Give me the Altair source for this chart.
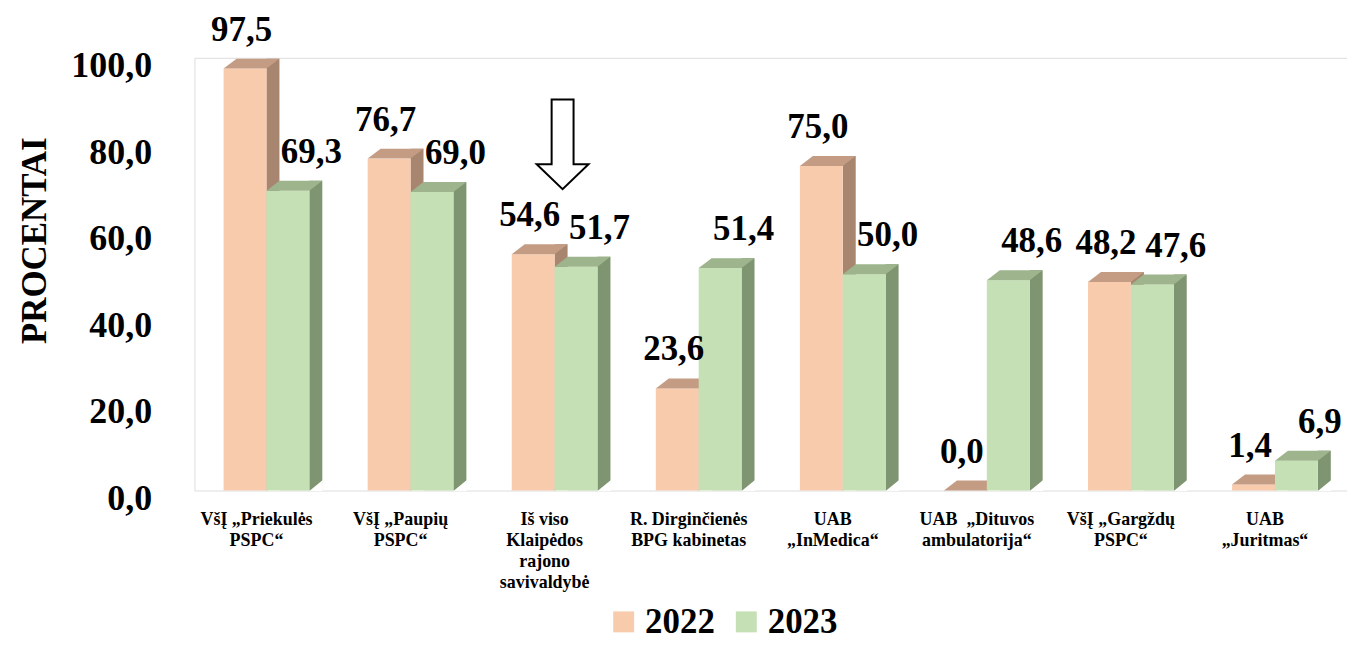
import altair as alt
import pandas as pd

categories = [
    "VšĮ „Priekulės\nPSPC“",
    "VšĮ „Paupių\nPSPC“",
    "Iš viso\nKlaipėdos\nrajono\nsavivaldybė",
    "R. Dirginčienės\nBPG kabinetas",
    "UAB\n„InMedica“",
    "UAB\u00a0 „Dituvos\nambulatorija“",
    "VšĮ „Gargždų\nPSPC“",
    "UAB\n„Juritmas“",
]
years = ["2022", "2023"]
values_2022 = [97.5, 76.7, 54.6, 23.6, 75.0, 0.0, 48.2, 1.4]
values_2023 = [69.3, 69.0, 51.7, 51.4, 50.0, 48.6, 47.6, 6.9]
y_ticks = [0, 20, 40, 60, 80, 100]
highlight = categories[2]

front_colors = ["#F8CBAD", "#C5E0B4"]
top_colors = ["#C49C84", "#9DB48C"]
side_colors = ["#A7856E", "#7F9470"]

FONT = "Liberation Serif"

rows = []
for yr, vals in zip(years, [values_2022, values_2023]):
    for c, v in zip(categories, vals):
        rows.append({"cat": c, "year": yr, "value": v})
df = pd.DataFrame(rows)

base = alt.Chart(df).transform_calculate(
    label="replace(format(datum.value, '.1f'), '.', ',')"
)

x_enc = alt.X(
    "cat:N",
    sort=categories,
    scale=alt.Scale(domain=categories, paddingInner=0, paddingOuter=0),
    axis=alt.Axis(
        labelExpr="split(datum.label, '\\n')",
        labelAngle=0,
        domain=False,
        ticks=False,
        labelPadding=20,
        labelOffset=-10,
        labelFont=FONT,
        labelFontSize=18,
        labelFontWeight="bold",
        labelLineHeight=21,
        labelColor="black",
        title=None,
    ),
)
y_scale = alt.Scale(domain=[0, 100], nice=False, zero=True)
y_enc = alt.Y(
    "value:Q",
    scale=y_scale,
    axis=alt.Axis(
        values=y_ticks,
        labelExpr="replace(format(datum.value, '.1f'), '.', ',')",
        grid=False,
        domain=False,
        ticks=False,
        labelPadding=43,
        labelOffset=8,
        labelFont=FONT,
        labelFontSize=36,
        labelFontWeight="bold",
        labelColor="black",
        title="PROCENTAI",
        titleFont=FONT,
        titleFontSize=35,
        titleFontWeight="bold",
        titleColor="black",
        titleAngle=270,
        titleX=-160,
        titleY=183,
        titleAlign="center",
        titleBaseline="middle",
    ),
)
color_enc = alt.Color(
    "year:N",
    scale=alt.Scale(domain=years, range=front_colors),
    legend=alt.Legend(
        title=None,
        orient="none",
        legendX=413,
        legendY=548,
        direction="horizontal",
        symbolType="square",
        symbolSize=441,
        symbolStrokeWidth=0,
        symbolOpacity=1,
        labelFont=FONT,
        labelFontSize=35,
        labelFontWeight="bold",
        labelColor="black",
        labelOffset=4,
        columnPadding=14,
    ),
)

layers = []
for i, yr in enumerate(years):
    left = -43 + 43 * i
    right = left + 43
    sub = base.transform_filter(alt.datum.year == yr)
    side = sub.mark_bar(
        width=13, xOffset=right + 6.5, yOffset=-10, y2Offset=0, color=side_colors[i]
    ).encode(x=x_enc, y=y_enc, y2=alt.datum(0))
    cut = sub.mark_point(
        shape=f"M{right},0.5 L{right + 13.5},-10.5 L{right + 13.5},0.5 Z",
        size=4, filled=True, fill="white", strokeWidth=0, opacity=1,
    ).encode(x=x_enc, y=alt.Y(datum=0, scale=y_scale))
    front = sub.mark_bar(width=43, xOffset=left + 21.5).encode(
        x=x_enc, y=y_enc, y2=alt.datum(0), color=color_enc
    )
    top = sub.mark_point(
        shape=f"M{left},0 L{right},0 L{right + 13},-10 L{left + 13},-10 Z",
        size=4, filled=True, fill=top_colors[i], strokeWidth=0, opacity=1,
    ).encode(x=x_enc, y=y_enc)
    layers += [side, cut, front, top]

for i, yr in enumerate(years):
    sub = base.transform_filter(alt.datum.year == yr)
    dx = -25 if i == 0 else 45
    txt = sub.mark_text(
        dx=dx, dy=-28, font=FONT, fontSize=35, fontWeight="bold",
        color="black", baseline="alphabetic", align="center",
    ).encode(x=x_enc, y=y_enc, text="label:N")
    layers.append(txt)

arrow = alt.Chart(pd.DataFrame({"a": [0]})).mark_point(
    shape="M-11,-45 L11,-45 L11,20 L26,20 L0,45 L-26,20 L-11,20 Z",
    size=4, filled=False, stroke="black", strokeWidth=2, opacity=1, xOffset=8,
).encode(x=alt.X(datum=highlight, scale=alt.Scale(domain=categories)), y=alt.Y(datum=80, scale=y_scale))
layers.append(arrow)

chart = alt.layer(*layers).properties(
    width=1156,
    height=434,
    padding={"left": 187, "top": 49, "right": 0, "bottom": 155},
    autosize=alt.AutoSizeParams(type="none"),
).configure_view(stroke=None).configure(background="white")

chart.save("out.html", embed_options={"renderer": "svg", "actions": False})
